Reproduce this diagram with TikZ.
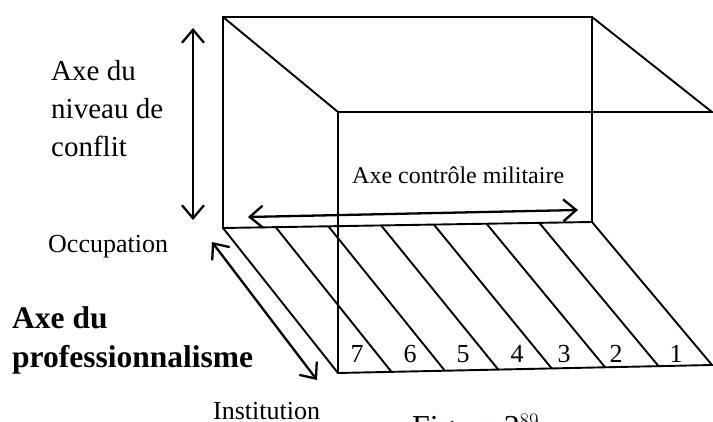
\documentclass[tikz,border=0pt]{standalone}
\usepackage{fontspec}
\setmainfont{Liberation Serif}
\usetikzlibrary{positioning,arrows.meta,calc}

\begin{document}
\begin{tikzpicture}[x=1pt,y=-1pt,
edge/.style={line width=1.9pt,line join=miter},
axis/.style={{Straight Barb[length=13pt,width=22pt]}-{Straight Barb[length=13pt,width=22pt]},line width=2.3pt},
lbl/.style={inner sep=0pt,font=\fontsize{26}{32}\selectfont},
num/.style={inner sep=0pt,font=\fontsize{26}{30}\selectfont}]
\useasboundingbox (0,0) rectangle (713,421);
% box corners
\coordinate (bTL) at (223,17);\coordinate (bTR) at (592,17);
\coordinate (bBL) at (223,228);\coordinate (bBR) at (592,222);
\coordinate (fTL) at (338,112);\coordinate (fTR) at (712,112);
\coordinate (fBL) at (338,373);\coordinate (fBR) at (712,365);
% back face and roof
\draw[edge] (bBL)--(bTL)--(bTR)--(bBR)--cycle;
\draw[edge] (bTL)--(fTL)--(fTR)--(bTR);
% floor strips
\draw[edge] (bBL)--(fBL)--(fBR)--(bBR);
\foreach \i in {1,...,6}
  \draw[edge] ($(bBL)!\i/7!(bBR)$)--($(fBL)!\i/7!(fBR)$);
\foreach \x/\lab in {357/7,410/6,463/5,517/4,564/3,616/2,676/1}
  \node[num] (n\lab) at (\x,354) {\lab};
\draw[edge] (fTL)--(fBL);
% axes
\coordinate (cTop) at (193,28);\coordinate (cBot) at (193,220);
\coordinate (mL) at (248,217);\coordinate (mR) at (578,210);
\coordinate (pOcc) at (212,242);\coordinate (pIns) at (317,380);
\draw[axis] (cTop)--(cBot);
\draw[axis] (mL)--(mR);
\draw[axis] (pOcc)--(pIns);
% labels
\node[lbl,font=\fontsize{29}{38}\selectfont,align=left,anchor=north west] (conflit) at (51,60) {Axe du\\niveau de\\conflit};
\node[lbl,anchor=base west] (occ) at (48,252) {Occupation};
\node[lbl,font=\fontsize{24}{28}\selectfont,anchor=base west] (milit) at (352,183) {Axe contrôle militaire};
\node[lbl,font=\bfseries\fontsize{31.5}{39}\selectfont,anchor=base west] (prof) at (12,328) {Axe du};
\node[lbl,font=\bfseries\fontsize{31.5}{39}\selectfont,anchor=base west] (prof2) at (12,367) {professionnalisme};
\node[lbl,anchor=base west] (inst) at (213,419) {Institution};
\node[lbl,font=\fontsize{32}{38}\selectfont,anchor=base west] (fig) at (412,437) {Figure 2$^{89}$};
\end{tikzpicture}
\end{document}
